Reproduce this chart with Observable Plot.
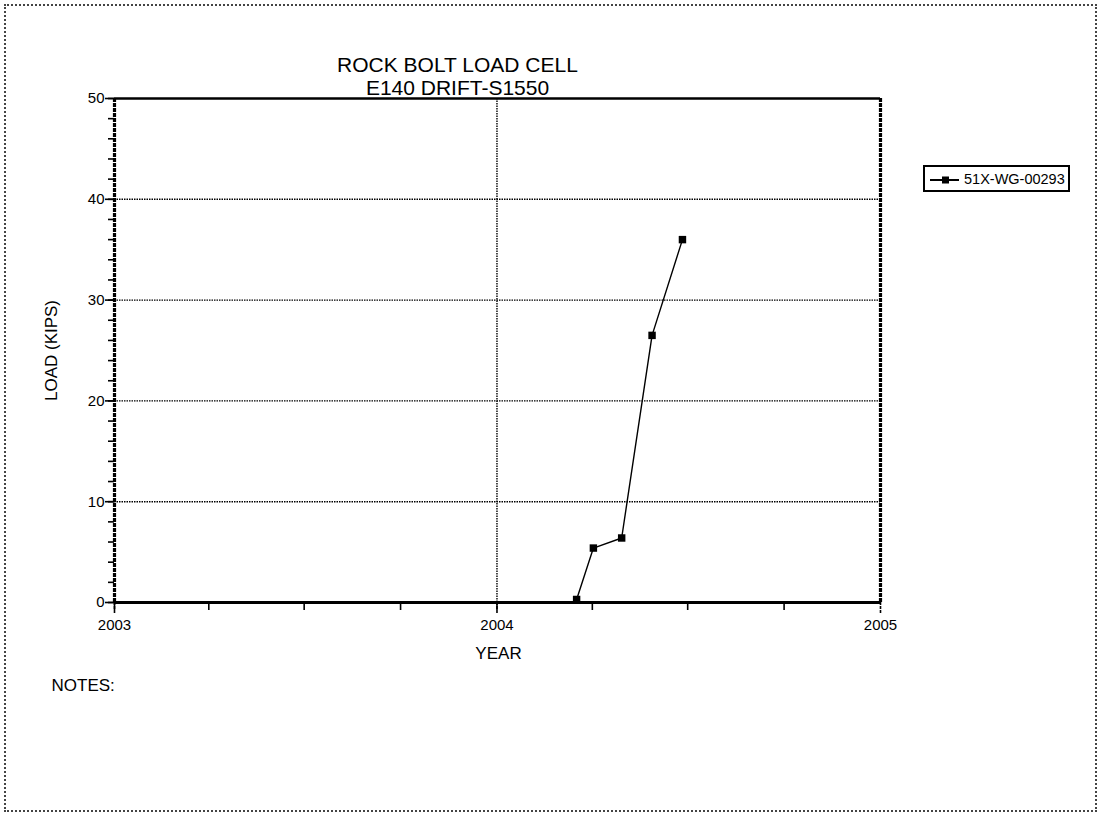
<!DOCTYPE html>
<html>
<head>
<meta charset="utf-8">
<script src="https://cdn.jsdelivr.net/npm/d3@7"></script>
<script src="https://cdn.jsdelivr.net/npm/@observablehq/plot@0.6"></script>
<style>
  html, body { margin: 0; padding: 0; background: #fff; }
  #wrap { position: relative; width: 1099px; height: 814px; overflow: hidden; font-family: "Liberation Sans", Arial, sans-serif; }
  #wrap svg.plot { position: absolute; left: 0; top: 0; }
  #border { position: absolute; left: 4px; top: 4px; width: 1093px; height: 808px; box-sizing: border-box; border: 2px dotted #444; }
  #legend { position: absolute; left: 923px; top: 165px; width: 147px; height: 27px; box-sizing: border-box; border: 2px solid #000; background: #fff; }
  #legend svg { position: absolute; left: 4px; top: 6px; }
  #legend span { position: absolute; left: 39px; top: 4px; font-size: 14.5px; line-height: 16px; color: #000; white-space: nowrap; }
</style>
</head>
<body>
<div id="wrap">
  <div id="border"></div>
  <div id="legend">
    <svg width="32" height="14"><line x1="1" y1="7" x2="30" y2="7" stroke="#000" stroke-width="2"/><rect x="13" y="3.5" width="7" height="7" fill="#000"/></svg>
    <span>51X-WG-00293</span>
  </div>
</div>
<script>
const seriesName = "51X-WG-00293";
const dates = ["2004-03-17", "2004-04-02", "2004-04-29", "2004-05-28", "2004-06-26"];
const loads = [0.3, 5.4, 6.4, 26.5, 36.0];
const yearTicks = ["2003-01-01", "2004-01-01", "2005-01-01"];
const yTicks = [0, 10, 20, 30, 40, 50];
const yGrid = [10, 20, 30, 40];
const titleLines = ["ROCK BOLT LOAD CELL", "E140 DRIFT-S1550"];

const data = dates.map((d, i) => ({date: new Date(d), load: loads[i]}));
const years = yearTicks.map(d => new Date(d));
const quarters = d3.utcMonth.every(3).range(years[0], years[2]);
const yMinor = d3.range(0, 51, 2);

const chart = Plot.plot({
  width: 1099,
  height: 814,
  marginLeft: 114,
  marginRight: 219,
  marginTop: 98,
  marginBottom: 212,
  style: {fontFamily: "'Liberation Sans', Arial, sans-serif", background: "transparent", color: "#000", overflow: "visible"},
  x: {type: "utc", domain: [years[0], years[2]]},
  y: {domain: [0, 50]},
  marks: [
    Plot.gridY(yGrid, {stroke: "#000", strokeOpacity: 1, strokeWidth: 1.4, strokeDasharray: "1.5,1"}),
    Plot.gridX([years[1]], {stroke: "#000", strokeOpacity: 1, strokeWidth: 1.4, strokeDasharray: "1.5,1"}),
    Plot.axisX({ticks: quarters, tickSize: 8, tickFormat: () => "", label: null, strokeWidth: 1.6}),
    Plot.axisX({ticks: years, tickSize: 12, tickPadding: 5, tickFormat: "%Y", fontSize: 15, label: null, strokeWidth: 1.6, strokeDasharray: "3,1"}),
    Plot.axisY({ticks: yMinor, tickSize: 6, tickFormat: () => "", label: null, strokeWidth: 1.6}),
    Plot.axisY({ticks: yTicks, tickSize: 9, tickPadding: 1, fontSize: 15, label: null, strokeWidth: 1.6}),
    Plot.ruleY([0], {stroke: "#000", strokeWidth: 3}),
    Plot.ruleY([50], {stroke: "#000", strokeWidth: 2.5}),
    Plot.ruleX([years[0], years[2]], {stroke: "#000", strokeWidth: 3.2, strokeDasharray: "4,1"}),
    Plot.line(data, {x: "date", y: "load", stroke: "#000", strokeWidth: 1.4}),
    Plot.dot(data, {x: "date", y: "load", symbol: "square", r: 4.2, fill: "#000", stroke: "none"}),
    Plot.text([titleLines[0]], {text: d => d, frameAnchor: "top-left", dx: 343, dy: -41.4, fontSize: 21, textAnchor: "middle", fill: "#000"}),
    Plot.text([titleLines[1]], {text: d => d, frameAnchor: "top-left", dx: 343, dy: -18, fontSize: 21, textAnchor: "middle", fill: "#000"}),
    Plot.text(["YEAR"], {text: d => d, frameAnchor: "top-left", dx: 384, dy: 548.6, fontSize: 17, textAnchor: "middle", fill: "#000"}),
    Plot.text(["LOAD (KIPS)"], {text: d => d, frameAnchor: "top-left", dx: -70, dy: 252, fontSize: 17, textAnchor: "middle", rotate: -90, fill: "#000"}),
    Plot.text(["NOTES:"], {text: d => d, frameAnchor: "top-left", dx: -63, dy: 580.6, fontSize: 17, textAnchor: "start", fill: "#000"})
  ]
});
chart.classList.add("plot");
const wrap = document.getElementById("wrap");
wrap.insertBefore(chart, wrap.firstChild);
</script>
</body>
</html>
